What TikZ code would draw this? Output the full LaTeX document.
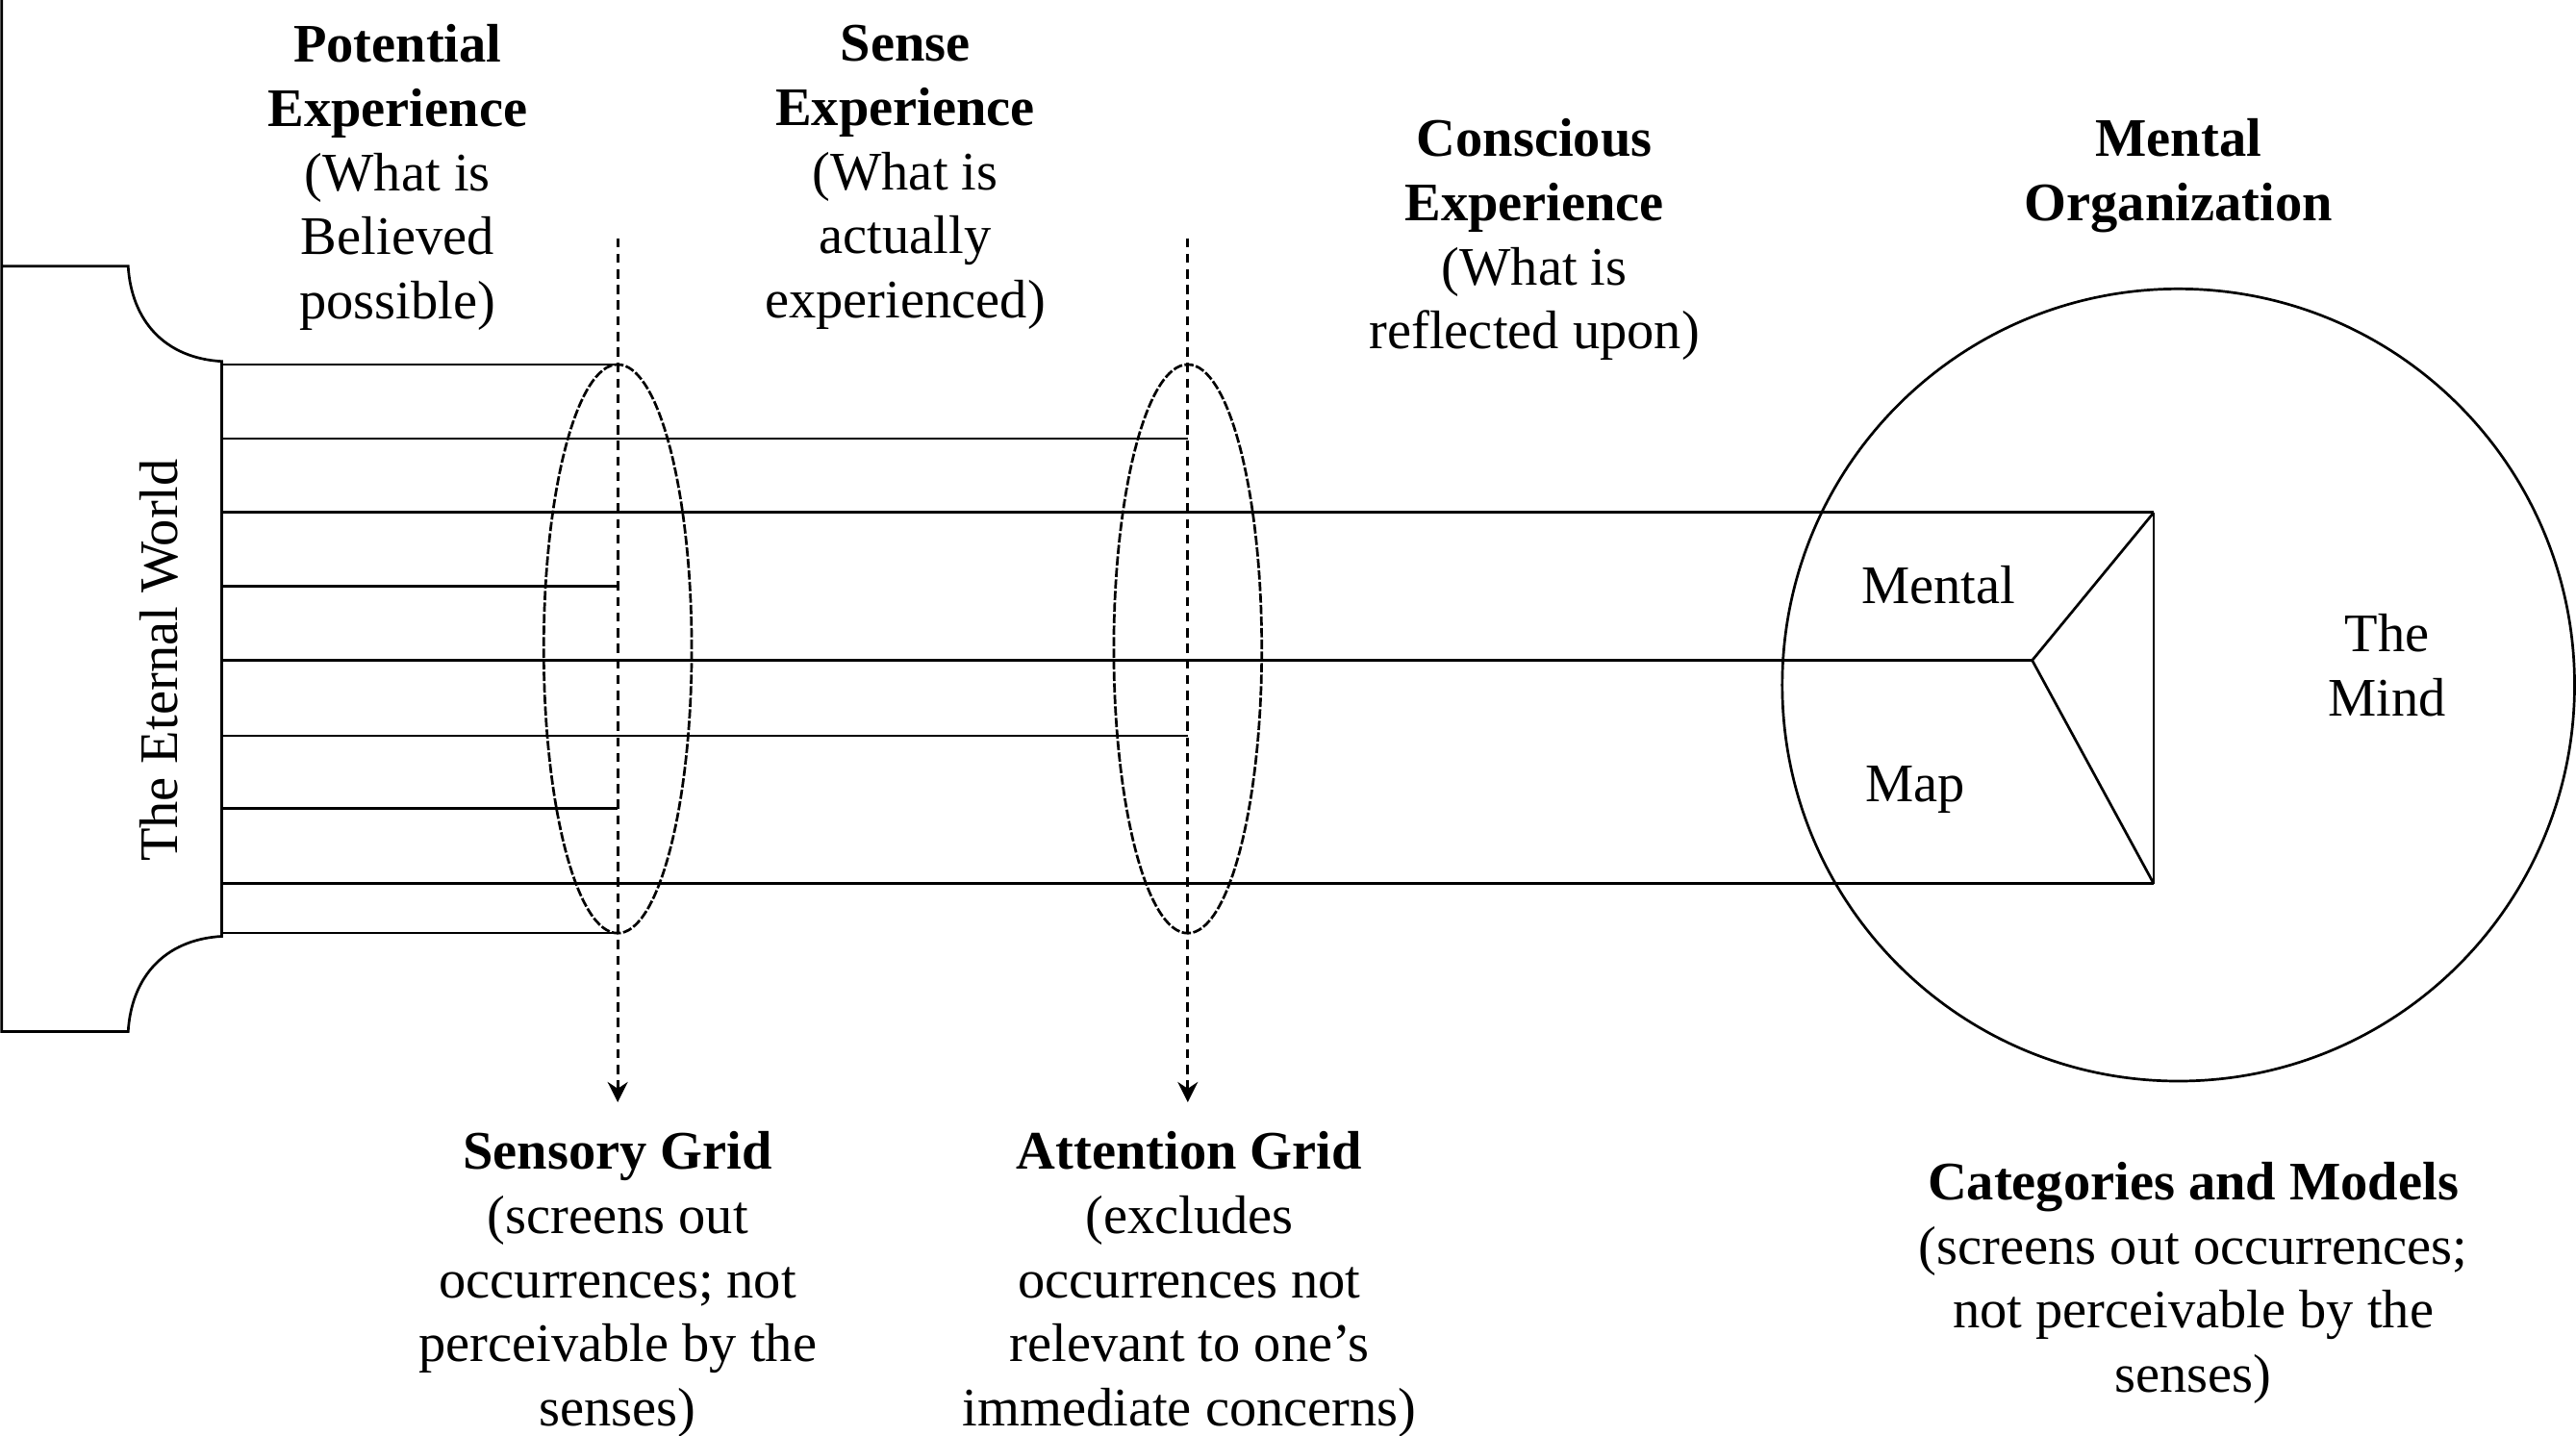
\documentclass[tikz,border=0pt]{standalone}
\usepackage{fontspec}
\setmainfont{Liberation Serif}
\usetikzlibrary{shapes.geometric,arrows.meta}

\begin{document}
\begin{tikzpicture}[x=0.01cm,y=-0.01cm,line width=0.45pt,
  every node/.style={font=\fontsize{9.4}{11.1}\selectfont,align=center,inner sep=0pt},
  grid/.style={draw,ellipse,dash pattern=on 1.6pt off 0.4pt,minimum width=0.9cm,minimum height=3.46cm},
  screen/.style={dash pattern=on 1.6pt off 1.1pt,-{Stealth[length=3.5pt,width=3.5pt]}}]
\useasboundingbox (0,0) rectangle (1568,874);
% the world outside
\draw (1,0) -- (1,628) -- (78,628) .. controls (80,595) and (100,572) .. (135,570)
  -- (135,220) .. controls (100,218) and (80,195) .. (78,162) -- (1,162);
\node[rotate=90] (world) at (97,402) {The Eternal World};
% grids and the mind
\node[grid] (sense) at (376,395) {};
\node[grid] (attend) at (723,395) {};
\node[draw,circle,minimum size=4.82cm] (mind) at (1326,417) {};
\coordinate (mapNE) at (1311,312);
\coordinate (mapSE) at (1311,538);
\coordinate (tip) at (1237,402);
\draw (mapNE) -- (mapSE);
\draw (mapNE) -- (tip) -- (mapSE);
% occurrences
\foreach \n/\y in {1/222,2/267,3/312,4/357,5/402,6/448,7/492,8/538,9/568}
  \coordinate (w\n) at (135,\y);
\foreach \u/\v in {w1/sense,w2/attend,w3/mapNE,w4/sense,w6/attend,w7/sense,w8/mapSE,w9/sense}
  \draw (\u) -- (\u -| \v);
\draw (w5) -- (tip);
\coordinate (s0) at (376,145);
\coordinate (s1) at (376,671);
\coordinate (a0) at (723,145);
\coordinate (a1) at (723,671);
\draw[screen] (s0) -- (s1);
\draw[screen] (a0) -- (a1);
% labels
\node (potential) at (242,108) {\textbf{Potential}\\\textbf{Experience}\\(What is\\Believed\\possible)};
\node (sensexp) at (551,108) {\textbf{Sense}\\\textbf{Experience}\\(What is\\actually\\experienced)};
\node (conscious) at (934,146) {\textbf{Conscious}\\\textbf{Experience}\\(What is\\reflected upon)};
\node (mentalorg) at (1326,107) {\textbf{Mental}\\\textbf{Organization}};
\node (mental) at (1180,356) {Mental};
\node (map) at (1166,481) {Map};
\node (mindtext) at (1453,405) {The\\Mind};
\node (sensory) at (376,782) {\textbf{Sensory Grid}\\(screens out\\occurrences; not\\perceivable by the\\senses)};
\node (attention) at (724,782) {\textbf{Attention Grid}\\(excludes\\occurrences not\\relevant to one’s\\immediate concerns)};
\node (categories) at (1335,781) {\textbf{Categories and Models}\\(screens out occurrences;\\not perceivable by the\\senses)};
\end{tikzpicture}
\end{document}
